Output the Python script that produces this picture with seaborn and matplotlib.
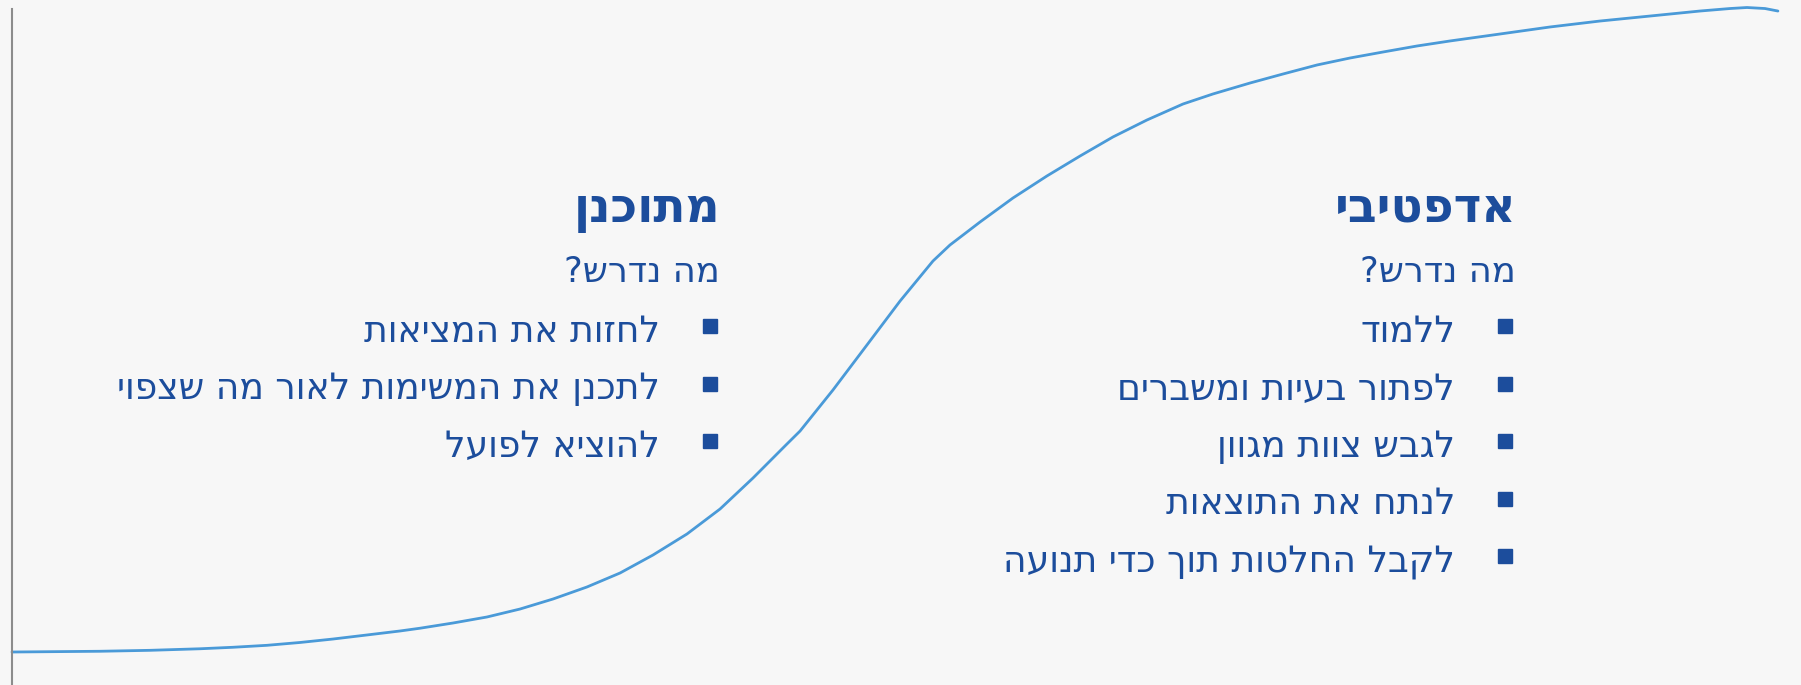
import numpy as np
import pandas as pd
import matplotlib
matplotlib.use("Agg")
import matplotlib.pyplot as plt
import seaborn as sns

# curve (x: 0..100 time, y: 0..100 level)
curve_x = [0.0, 4.92, 7.71, 10.51, 12.35, 14.25, 16.10, 17.94, 19.84, 21.69,
           22.81, 24.65, 26.55, 28.40, 30.24, 32.14, 33.99, 35.83, 37.73, 39.58,
           41.42, 43.26, 44.05, 45.89, 47.79, 49.64, 51.48, 52.43, 53.38, 54.11,
           55.95, 57.85, 59.70, 61.54, 63.44, 65.46, 67.13, 69.20, 71.04, 72.95,
           74.79, 76.64, 78.54, 80.38, 83.17, 85.97, 88.76, 91.56, 94.35, 96.03,
           96.98, 97.99, 98.71]
curve_y = [4.88, 4.99, 5.13, 5.36, 5.58, 5.87, 6.29, 6.80, 7.40, 7.99,
           8.40, 9.17, 10.06, 11.24, 12.72, 14.50, 16.57, 19.23, 22.34, 26.04,
           30.62, 35.50, 37.57, 43.64, 50.30, 56.80, 62.72, 65.09, 67.01, 68.49,
           72.04, 75.30, 78.25, 81.07, 83.58, 85.95, 87.43, 89.05, 90.38, 91.72,
           92.75, 93.64, 94.53, 95.27, 96.30, 97.34, 98.22, 98.96, 99.70, 100.07,
           100.22, 100.07, 99.70]

left_title = "מתוכנן"
left_sub = "מה נדרש?"
left_items = ["לחזות את המציאות",
              "לתכנן את המשימות לאור מה שצפוי",
              "להוציא לפועל"]

right_title = "אדפטיבי"
right_sub = "מה נדרש?"
right_items = ["ללמוד",
               "לפתור בעיות ומשברים",
               "לגבש צוות מגוון",
               "לנתח את התוצאות",
               "לקבל החלטות תוך כדי תנועה"]

BG = "#f7f7f7"
TXT = "#1c4d9c"
LINE = "#4a9ad8"

sns.set_theme(style="white")
plt.rcParams["font.family"] = ["DejaVu Sans"]

W, H = 1801, 685
fig = plt.figure(figsize=(W / 100, H / 100), dpi=100, facecolor=BG)
ax = fig.add_axes([12 / W, 0, 1 - 12 / W, 1 - 9 / H])
ax.set_facecolor(BG)

df = pd.DataFrame({"x": curve_x, "y": curve_y})
sns.lineplot(data=df, x="x", y="y", ax=ax, color=LINE, linewidth=2.0,
             estimator=None, sort=False)
ax.lines[0].set_clip_on(False)
ax.lines[0].set_solid_joinstyle("round")
ax.set_xlim(0, 100)
ax.set_ylim(0, 100)
ax.set_xticks([])
ax.set_yticks([])
ax.set_xlabel("")
ax.set_ylabel("")
for s in ["top", "right", "bottom"]:
    ax.spines[s].set_visible(False)
ax.spines["left"].set_color("#8c8c8c")
ax.spines["left"].set_linewidth(1.5)


def vis(s):
    # matplotlib has no bidi, so flip hebrew to visual order
    return s[::-1]


def fx(px):
    return px / W


def fy(py):
    return 1 - py / H


def block(title, sub, items, right_px, bullet_px, text_px):
    fig.text(fx(right_px), fy(222), vis(title), ha="right", va="baseline",
             fontsize=34, fontweight="bold", color=TXT)
    fig.text(fx(right_px), fy(282), vis(sub), ha="right", va="baseline",
             fontsize=25.5, color=TXT)
    for i, it in enumerate(items):
        cy = 326 + i * 57.5
        fig.lines.append(plt.Line2D([fx(bullet_px)], [fy(cy)], marker="s",
                                    markersize=10, color=TXT, linestyle="none",
                                    transform=fig.transFigure, figure=fig))
        fig.text(fx(text_px), fy(cy + 16), vis(it), ha="right", va="baseline",
                 fontsize=26, color=TXT)


block(left_title, left_sub, left_items, 720, 710, 660)
block(right_title, right_sub, right_items, 1516, 1505, 1455)

fig.savefig("out.png", dpi=100, facecolor=BG)
